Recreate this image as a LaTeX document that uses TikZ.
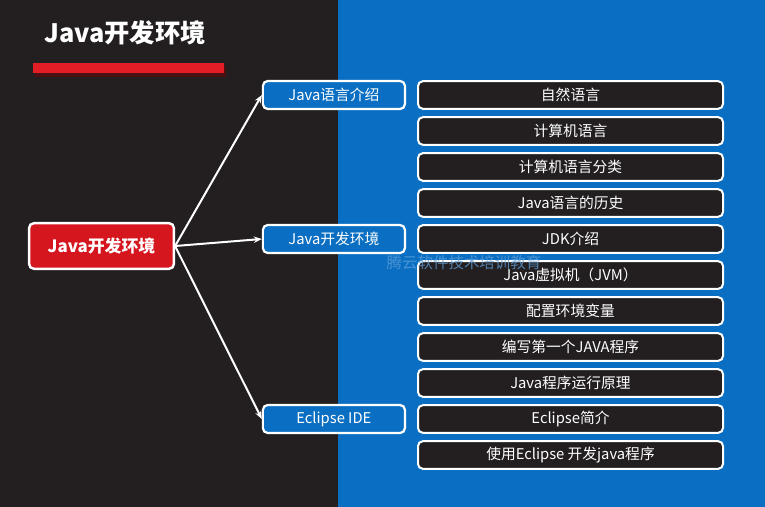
\documentclass[tikz,border=0pt]{standalone}
\usepackage{fontspec}
\setmainfont{Noto Sans CJK SC}
\usepackage{tikz}
\usetikzlibrary{arrows.meta, positioning}
\definecolor{bgdark}{HTML}{231F20}
\definecolor{bgblue}{HTML}{0A6FC2}
\definecolor{rootred}{HTML}{D5161E}
\definecolor{barred}{HTML}{E31D25}
\definecolor{barshade}{HTML}{4A1012}
\definecolor{markfaint}{HTML}{5E9FDA}

\begin{document}
\begin{tikzpicture}[
  x=0.25mm, y=-0.25mm,
  node distance=1.6mm and 2.75mm,
  root/.style={draw=white, line width=0.6mm, fill=rootred, rounded corners=1.2mm, minimum width=36.2mm, minimum height=11.4mm, font=\bfseries\fontsize{12}{14}\selectfont, text=white},
  part/.style={draw=white, line width=0.55mm, fill=bgblue, rounded corners=1.2mm, minimum width=35.5mm, minimum height=7mm, font=\fontsize{10.5}{12}\selectfont, text=white},
  topic/.style={draw=white, line width=0.5mm, fill=bgdark, rounded corners=1.2mm, minimum width=76.25mm, minimum height=6.9mm, font=\fontsize{10.5}{12}\selectfont, text=white},
  link/.style={-{Stealth[length=2mm, width=1.6mm]}, line width=0.5mm, white}
]
\useasboundingbox (0,0) rectangle (765,507);
\fill[bgdark] (0,0) rectangle (338,507);
\fill[bgblue] (338,0) rectangle (765,507);

% title and bar
\node[font=\bfseries\fontsize{18}{20}\selectfont, text=white] (title) at (125,33) {Java开发环境};
\fill[barshade] (35,66) rectangle (226,77);
\fill[barred] (33,63) rectangle (224,73);

% topics
\node[topic] (t1) at (570.5,95) {自然语言};
\node[topic, below=of t1] (t2) {计算机语言};
\node[topic, below=of t2] (t3) {计算机语言分类};
\node[topic, below=of t3] (t4) {Java语言的历史};
\node[topic, below=of t4] (t5) {JDK介绍};
\node[topic, below=of t5] (t6) {Java虚拟机（JVM）};
\node[topic, below=of t6] (t7) {配置环境变量};
\node[topic, below=of t7] (t8) {编写第一个JAVA程序};
\node[topic, below=of t8] (t9) {Java程序运行原理};
\node[topic, below=of t9] (t10) {Eclipse简介};
\node[topic, below=of t10] (t11) {使用Eclipse 开发java程序};

% parts
\node[part, left=of t1] (lang) {Java语言介绍};
\node[part, left=of t5] (env) {Java开发环境};
\node[part, left=of t10] (ide) {Eclipse IDE};

\node[root] (root) at (101.5,246) {Java开发环境};

\draw[link] (root.east) -- (lang.west);
\draw[link] (root.east) -- (env.west);
\draw[link] (root.east) -- (ide.west);

\node[text=markfaint, opacity=0.75, inner sep=0pt, font=\fontsize{11}{12}\selectfont] (mark) at (464,263) {腾云软件技术培训教育};
\end{tikzpicture}
\end{document}
